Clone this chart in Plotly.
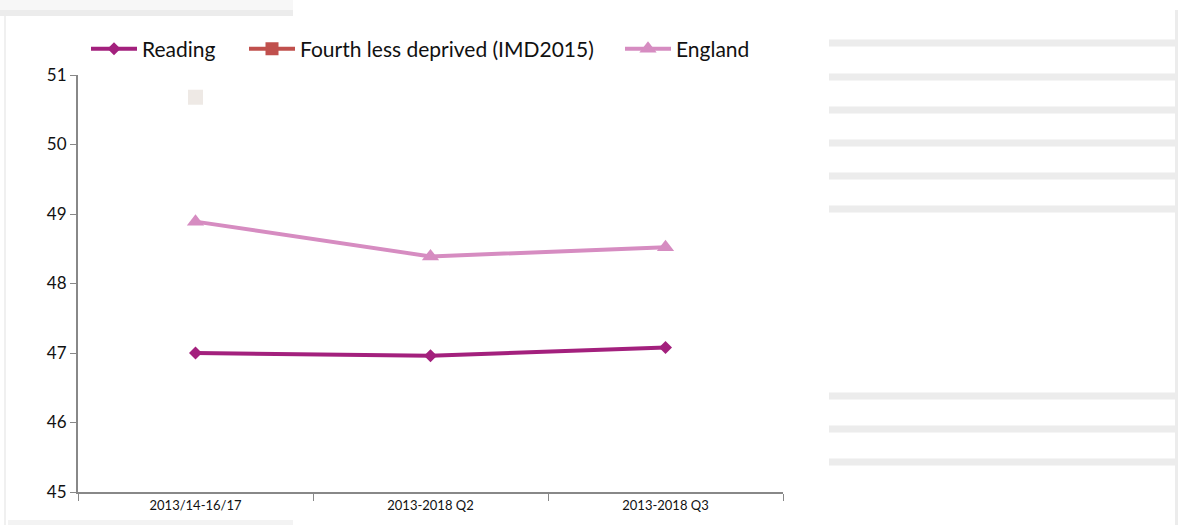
import plotly.graph_objects as go

categories = ["2013/14-16/17", "2013-2018 Q2", "2013-2018 Q3"]
reading = [47.0, 46.96, 47.08]
fourth = [50.68, None, None]
england = [48.89, 48.39, 48.52]
y_ticks = [45, 46, 47, 48, 49, 50, 51]

W, H = 1178, 525
L, R, T, B = 78, 783, 75, 492

def px(x):
    return (x - L) / (R - L)

def py(y):
    return (B - y) / (B - T)

fig = go.Figure()
fig.add_trace(go.Scatter(x=categories, y=reading, name="Reading", mode="lines+markers",
                         line=dict(color="#A3207D", width=4),
                         marker=dict(symbol="diamond", size=10, color="#A3207D"), legend="legend"))
fig.add_trace(go.Scatter(x=categories, y=fourth, name="Fourth less deprived (IMD2015)", mode="markers",
                         marker=dict(symbol="square", size=15, color="#EEE9E5"), showlegend=False))
fig.add_trace(go.Scatter(x=[None], y=[None], name="Fourth less deprived (IMD2015)", mode="lines+markers",
                         line=dict(color="#C0504D", width=4),
                         marker=dict(symbol="square", size=13, color="#C0504D"), legend="legend2"))
fig.add_trace(go.Scatter(x=categories, y=england, name="England", mode="lines+markers",
                         line=dict(color="#D68CC1", width=4),
                         marker=dict(symbol="triangle-up", size=15, color="#D68CC1"), legend="legend3"))

shapes = []
gray = "#ECECEC"
for yy in [43, 77, 110, 143, 176, 209, 396, 429, 462]:
    shapes.append(dict(type="rect", xref="paper", yref="paper", x0=px(829), x1=px(1175),
                       y0=py(yy + 3.5), y1=py(yy - 3.5), fillcolor=gray, line=dict(width=0), layer="below"))
shapes.append(dict(type="rect", xref="paper", yref="paper", x0=px(1175), x1=px(1178),
                   y0=py(525), y1=py(10), fillcolor=gray, line=dict(width=0), layer="below"))
shapes.append(dict(type="rect", xref="paper", yref="paper", x0=px(0), x1=px(293),
                   y0=py(15), y1=py(0), fillcolor="#F7F7F7", line=dict(width=0), layer="below"))
shapes.append(dict(type="rect", xref="paper", yref="paper", x0=px(0), x1=px(293),
                   y0=py(16), y1=py(10), fillcolor=gray, line=dict(width=0), layer="below"))
shapes.append(dict(type="rect", xref="paper", yref="paper", x0=px(4), x1=px(6),
                   y0=py(525), y1=py(16), fillcolor="#F0F0F0", line=dict(width=0), layer="below"))
shapes.append(dict(type="rect", xref="paper", yref="paper", x0=px(8), x1=px(293),
                   y0=py(525), y1=py(520), fillcolor="#F3F3F3", line=dict(width=0), layer="below"))

leg_common = dict(orientation="h", yanchor="middle", xanchor="left", y=py(49),
                  font=dict(size=21, color="#111111", family="Lato, sans-serif"),
                  bgcolor="rgba(0,0,0,0)", borderwidth=0, itemwidth=46)

fig.update_layout(
    width=W, height=H,
    margin=dict(l=L, r=W - R, t=T, b=H - B, pad=0),
    paper_bgcolor="white", plot_bgcolor="white",
    font=dict(family="Lato, Open Sans, sans-serif", color="#222222"),
    showlegend=True,
    legend=dict(x=px(86), **leg_common),
    legend2=dict(x=px(244), **leg_common),
    legend3=dict(x=px(620), **leg_common),
    shapes=shapes,
    xaxis=dict(type="category", showgrid=False, showline=True, linecolor="#888888", linewidth=2,
               ticks="outside", ticklen=7, tickcolor="#888888", tickwidth=1,
               tickson="boundaries", tickfont=dict(size=13, color="#111111"),
               range=[-0.5, 2.5], fixedrange=True),
    yaxis=dict(range=[45, 51], tickvals=y_ticks, showgrid=False, showline=True, linecolor="#888888",
               linewidth=2, ticks="outside", ticklen=6, tickcolor="#888888",
               tickfont=dict(size=17, color="#111111"), zeroline=False),
)

fig.write_html("out.html", config={"displayModeBar": False},
               post_script="document.body.style.margin='0';")
